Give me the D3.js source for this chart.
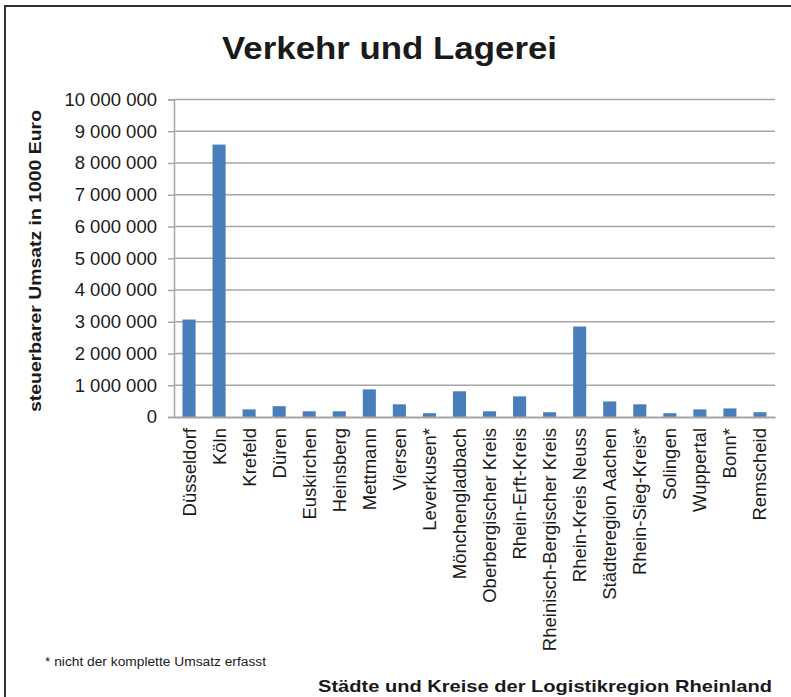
<!DOCTYPE html>
<html>
<head>
<meta charset="UTF-8">
<title>Verkehr und Lagerei</title>
<script src="https://d3js.org/d3.v7.min.js"></script>
<style>
  body { margin: 0; background: #fff; }
  svg { display: block; font-family: "Liberation Sans", Arial, sans-serif; }
</style>
</head>
<body>
<div id="chart"></div>
<script>
// Städte und Kreise (Reihenfolge wie im Original)
const categories = ["Düsseldorf", "Köln", "Krefeld", "Düren", "Euskirchen", "Heinsberg",
  "Mettmann", "Viersen", "Leverkusen*", "Mönchengladbach", "Oberbergischer Kreis",
  "Rhein-Erft-Kreis", "Rheinisch-Bergischer Kreis", "Rhein-Kreis Neuss",
  "Städteregion Aachen", "Rhein-Sieg-Kreis*", "Solingen", "Wuppertal", "Bonn*", "Remscheid"];

// steuerbarer Umsatz in 1000 Euro
const umsatz = [3070000, 8580000, 240000, 340000, 180000, 180000,
  870000, 400000, 120000, 810000, 180000,
  650000, 150000, 2850000,
  490000, 400000, 120000, 240000, 270000, 150000];

const yTicks = [0, 1000000, 2000000, 3000000, 4000000, 5000000,
  6000000, 7000000, 8000000, 9000000, 10000000];

const width = 791, height = 697;
const margin = {left: 174, right: 16, top: 99.5, bottom: 280};

const svg = d3.select("#chart").append("svg")
  .attr("width", width)
  .attr("height", height);

// Rahmen (nur links und oben sichtbar)
svg.append("rect")
  .attr("x", 5).attr("y", 6)
  .attr("width", 820).attr("height", 720)
  .attr("fill", "none")
  .attr("stroke", "#333")
  .attr("stroke-width", 2);

const x = d3.scaleBand()
  .domain(categories)
  .range([margin.left, width - margin.right])
  .paddingInner(0.565)
  .paddingOuter(0.2825);

const y = d3.scaleLinear()
  .domain([0, 10000000])
  .range([height - margin.bottom, margin.top]);

const fmt = d3.formatLocale({decimal: ",", thousands: " ", grouping: [3], currency: ["", "€"]}).format(",d");

// Gitternetz
svg.append("g")
  .selectAll("line")
  .data(yTicks.filter(d => d > 0))
  .join("line")
  .attr("x1", margin.left).attr("x2", width - margin.right)
  .attr("y1", d => y(d)).attr("y2", d => y(d))
  .attr("stroke", "#a6a6a6")
  .attr("stroke-width", 1.5);

// Y-Achse
const yAxis = svg.append("g")
  .attr("transform", `translate(${margin.left},0)`)
  .call(d3.axisLeft(y).tickValues(yTicks).tickFormat(fmt).tickSize(6).tickPadding(11));
yAxis.select(".domain").attr("stroke", "#a6a6a6").attr("stroke-width", 1.5);
yAxis.selectAll(".tick line").attr("stroke", "#a6a6a6").attr("stroke-width", 1.5);
yAxis.selectAll(".tick text")
  .attr("fill", "#1a1a1a")
  .style("font-size", "18.5px")
  .style("font-family", "'Liberation Sans', Arial, sans-serif");

// Balken
svg.append("g")
  .selectAll("rect")
  .data(umsatz)
  .join("rect")
  .attr("x", (d, i) => x(categories[i]))
  .attr("y", d => y(d))
  .attr("width", x.bandwidth())
  .attr("height", d => y(0) - y(d))
  .attr("fill", "#4a7ebb");

// X-Achse
const xAxis = svg.append("g")
  .attr("transform", `translate(0,${y(0)})`)
  .call(d3.axisBottom(x).tickSize(0).tickPadding(0));
xAxis.select(".domain").attr("stroke", "#a6a6a6").attr("stroke-width", 2);
xAxis.selectAll(".tick text")
  .attr("transform", "rotate(-90)")
  .attr("text-anchor", "end")
  .attr("x", -11)
  .attr("y", 0)
  .attr("dy", "0.35em")
  .attr("fill", "#1a1a1a")
  .style("font-size", "18.5px")
  .style("font-family", "'Liberation Sans', Arial, sans-serif");

// Titel
svg.append("text")
  .attr("x", 389.5).attr("y", 59)
  .attr("text-anchor", "middle")
  .attr("textLength", 335)
  .attr("lengthAdjust", "spacingAndGlyphs")
  .style("font-size", "31px")
  .style("font-weight", "bold")
  .attr("fill", "#1a1a1a")
  .text("Verkehr und Lagerei");

// Y-Achsentitel
svg.append("text")
  .attr("transform", "translate(41,261) rotate(-90)")
  .attr("text-anchor", "middle")
  .attr("textLength", 302)
  .attr("lengthAdjust", "spacingAndGlyphs")
  .style("font-size", "17px")
  .style("font-weight", "bold")
  .attr("fill", "#1a1a1a")
  .text("steuerbarer Umsatz in 1000 Euro");

// X-Achsentitel
svg.append("text")
  .attr("x", 318).attr("y", 692)
  .attr("textLength", 454)
  .attr("lengthAdjust", "spacingAndGlyphs")
  .style("font-size", "17px")
  .style("font-weight", "bold")
  .attr("fill", "#1a1a1a")
  .text("Städte und Kreise der Logistikregion Rheinland");

// Fußnote
svg.append("text")
  .attr("x", 45).attr("y", 666)
  .attr("textLength", 221)
  .attr("lengthAdjust", "spacingAndGlyphs")
  .style("font-size", "12.5px")
  .attr("fill", "#1a1a1a")
  .text("* nicht der komplette Umsatz erfasst");
</script>
</body>
</html>
